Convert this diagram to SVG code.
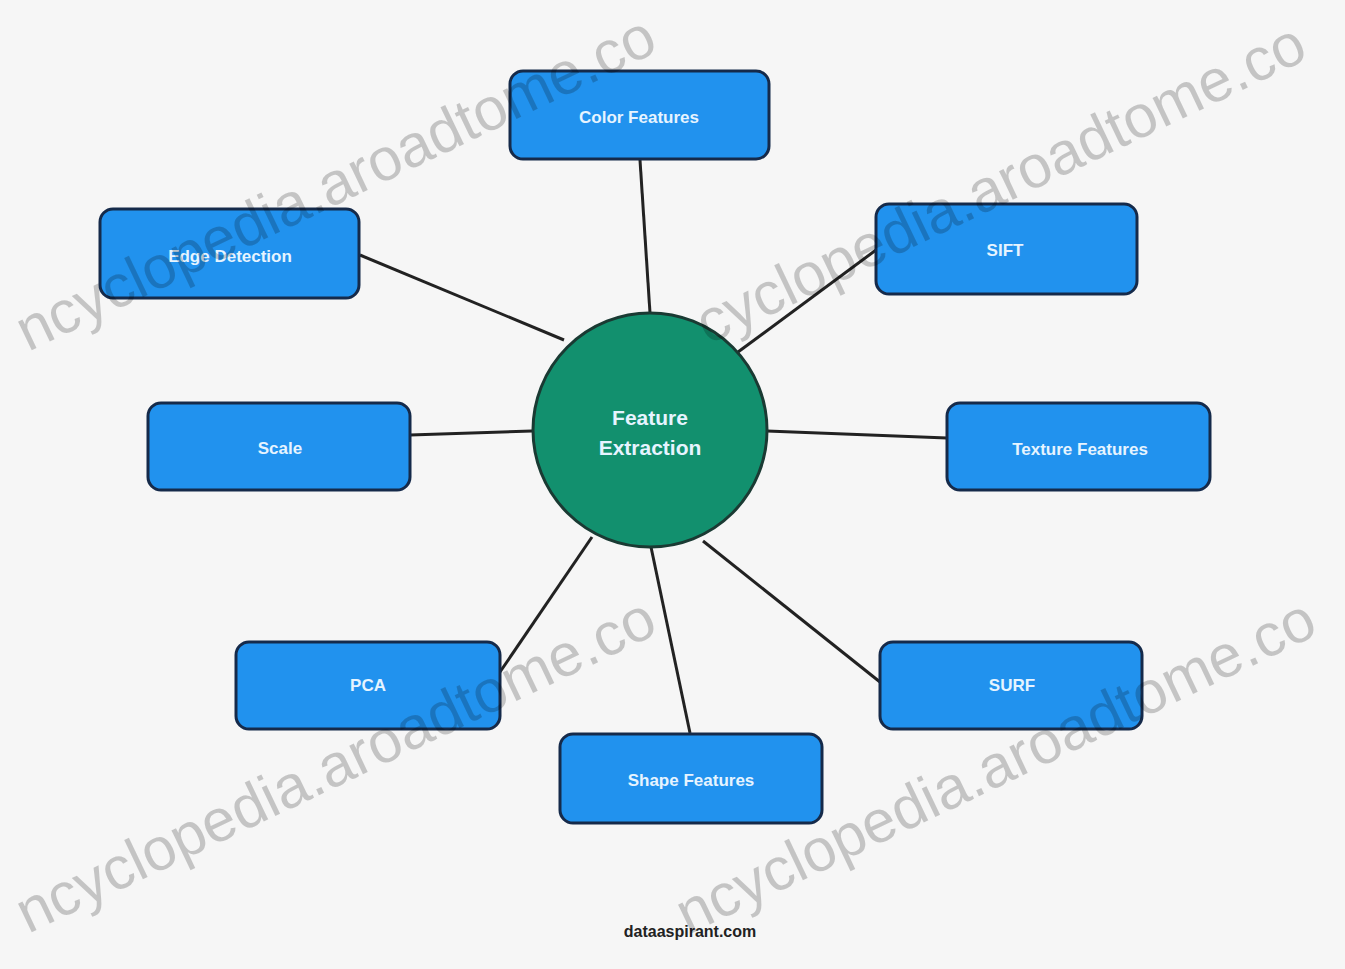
<svg xmlns="http://www.w3.org/2000/svg" width="1345" height="969" viewBox="0 0 1345 969">
<style>
.box{fill:#2192ee;stroke:#152a4a;stroke-width:3}
.lbl{font-family:"Liberation Sans",Arial,sans-serif;font-size:17px;font-weight:bold;fill:#e6f4ff;text-anchor:middle;dominant-baseline:central}
.big{font-size:21px}
.edge{stroke:#222;stroke-width:3;fill:none}
.wm{font-family:"Liberation Sans",Arial,sans-serif;font-size:60px;fill:#000;fill-opacity:0.2}
</style>
<rect width="1345" height="969" fill="#f6f6f6"/>
<g id="connectors">
<line class="edge" x1="640" y1="160" x2="650" y2="313"/>
<line class="edge" x1="360" y1="255" x2="564" y2="340"/>
<line class="edge" x1="876" y1="250" x2="738" y2="352"/>
<line class="edge" x1="410" y1="435" x2="532" y2="431"/>
<line class="edge" x1="767" y1="431" x2="947" y2="438"/>
<line class="edge" x1="500" y1="672" x2="592" y2="537"/>
<line class="edge" x1="690" y1="733" x2="651" y2="547"/>
<line class="edge" x1="880" y1="682" x2="703" y2="541"/>
</g>
<g id="center">
<circle cx="650" cy="430" r="117" fill="#12906e" stroke="#1a3a33" stroke-width="3"/>
<text class="lbl big" x="650" y="417">Feature</text>
<text class="lbl big" x="650" y="447">Extraction</text>
</g>
<g id="color"><rect class="box" x="510" y="71" width="259" height="88" rx="13"/><text class="lbl" x="639" y="117">Color Features</text></g>
<g id="edge-detection"><rect class="box" x="100" y="209" width="259" height="89" rx="13"/><text class="lbl" x="230" y="256">Edge Detection</text></g>
<g id="sift"><rect class="box" x="876" y="204" width="261" height="90" rx="13"/><text class="lbl" x="1005" y="250">SIFT</text></g>
<g id="scale"><rect class="box" x="148" y="403" width="262" height="87" rx="13"/><text class="lbl" x="280" y="448">Scale</text></g>
<g id="texture"><rect class="box" x="947" y="403" width="263" height="87" rx="13"/><text class="lbl" x="1080" y="449">Texture Features</text></g>
<g id="pca"><rect class="box" x="236" y="642" width="264" height="87" rx="13"/><text class="lbl" x="368" y="685">PCA</text></g>
<g id="surf"><rect class="box" x="880" y="642" width="262" height="87" rx="13"/><text class="lbl" x="1012" y="685">SURF</text></g>
<g id="shape"><rect class="box" x="560" y="734" width="262" height="89" rx="13"/><text class="lbl" x="691" y="780">Shape Features</text></g>
<text x="690" y="937" font-family="'Liberation Sans',Arial,sans-serif" font-size="16" font-weight="bold" fill="#222" text-anchor="middle">dataaspirant.com</text>
<g id="watermark">
<text class="wm" transform="translate(28,352) rotate(-25.5)">ncyclopedia.aroadtome.co</text>
<text class="wm" transform="translate(708,345) rotate(-25.5)">cyclopedia.aroadtome.co</text>
<text class="wm" transform="translate(28,934) rotate(-25.5)">ncyclopedia.aroadtome.co</text>
<text class="wm" transform="translate(688,935) rotate(-25.5)">ncyclopedia.aroadtome.co</text>
</g>
</svg>
